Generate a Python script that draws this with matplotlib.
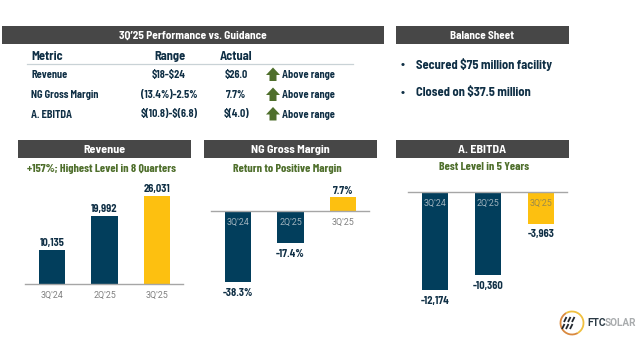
import matplotlib
matplotlib.use("Agg")
import matplotlib.pyplot as plt
from matplotlib.patches import Rectangle, Polygon, Arc

plt.rcParams['font.family'] = ['Barlow Semi Condensed', 'Roboto', 'DejaVu Sans']
CONDENSED = ['Barlow Condensed', 'Roboto', 'DejaVu Sans']
REGULAR = ['Roboto', 'DejaVu Sans']

quarters = ["3Q'24", "2Q'25", "3Q'25"]
revenue = [10135, 19992, 26031]
revenue_labels = ["10,135", "19,992", "26,031"]
margin = [-38.3, -17.4, 7.7]
margin_labels = ["-38.3%", "-17.4%", "7.7%"]
ebitda = [-12174, -10360, -3963]
ebitda_labels = ["-12,174", "-10,360", "-3,963"]
table_header = ["Metric", "Range", "Actual"]
metrics = ["Revenue", "NG Gross Margin", "A. EBITDA"]
ranges = [r"\$18-\$24", "(13.4%)-2.5%", r"\$(10.8)-\$(6.8)"]
actuals = [r"\$26.0", "7.7%", r"\$(4.0)"]
status = "Above range"
balance_items = [r"Secured \$75 million facility", r"Closed on \$37.5 million"]

NAVY = "#023e5c"
GOLD = "#fdc010"
HEAD = "#474747"
GREEN = "#4f6f2c"
DARK = "#0f2f45"
W, H = 640, 360

fig = plt.figure(figsize=(6.4, 3.6), dpi=100, facecolor="white")
bg = fig.add_axes([0, 0, 1, 1])
bg.set_xlim(0, W)
bg.set_ylim(H, 0)
bg.axis("off")


def header(x0, x1, y0, y1, text, size=8.7):
    bg.add_patch(Rectangle((x0, y0), x1 - x0, y1 - y0, fc=HEAD, ec="none"))
    bg.text((x0 + x1) / 2, (y0 + y1) / 2, text, color="white", fontsize=size,
            fontweight="bold", ha="center", va="center_baseline")


header(2, 384, 26, 44, "3Q’25 Performance vs. Guidance", 8.2)
header(396, 569, 26, 44, "Balance Sheet", 8.0)
header(18, 191, 140, 158, "Revenue")
header(204, 377, 140, 158, "NG Gross Margin")
header(396, 569, 140, 158, "A. EBITDA")

# guidance table
bg.text(31, 56, table_header[0], fontsize=9, fontweight="bold", color=DARK, va="center")
bg.text(170, 56, table_header[1], fontsize=9, fontweight="bold", color=DARK, va="center", ha="center")
bg.text(236, 56, table_header[2], fontsize=9, fontweight="bold", color=DARK, va="center", ha="center")
bg.plot([27, 353], [63.5, 63.5], color="#c9d2d6", lw=0.9)
for i, yy in enumerate([75, 95, 114.5]):
    bg.text(31, yy, metrics[i], fontsize=7.5, fontweight="bold", color=DARK, va="center")
    bg.text(169, yy, ranges[i], fontsize=7.5, fontweight="bold", color=DARK, va="center", ha="center")
    bg.text(236, yy, actuals[i], fontsize=7.5, fontweight="bold", color=DARK, va="center", ha="center")
    bg.add_patch(Polygon([(273, yy - 7.5), (280, yy), (276.5, yy), (276.5, yy + 6),
                          (269.5, yy + 6), (269.5, yy), (266, yy)], fc=GREEN, ec="none"))
    bg.text(282, yy, status, fontsize=7.5, fontweight="bold", color=DARK, va="center")

# balance sheet
for yy, item in zip([64.5, 92.5], balance_items):
    bg.text(403, yy, "•", fontsize=9, fontweight="bold", color=DARK, va="center", ha="center")
    bg.text(416, yy, item, fontsize=9.0, fontweight="bold", color=DARK, va="center")

# subtitles
for xx, yy, t in [(101.5, 168.5, "+157%; Highest Level in 8 Quarters"),
                  (287.5, 168.5, "Return to Positive Margin"),
                  (484, 167.5, "Best Level in 5 Years")]:
    bg.text(xx, yy, t, fontsize=8.6, fontweight="bold", color=GREEN, ha="center",
            va="center", family=CONDENSED)


def chart(x_center0, x_step, y_base, px_per_unit, values, labels, tick_colors, offset):
    left = x_center0 - 27
    right = x_center0 + 2 * x_step + 26
    vmax = max(max(values), 0)
    vmin = min(min(values), 0)
    top_px = y_base - vmax * px_per_unit - 18
    bot_px = y_base - vmin * px_per_unit + 18
    ax = fig.add_axes([left / W, 1 - bot_px / H, (right - left) / W, (bot_px - top_px) / H])
    ax.patch.set_alpha(0)
    ax.set_ylim(vmin - 18 / px_per_unit, vmax + 18 / px_per_unit)
    ax.set_xlim(-27 / x_step, 2 + 26 / x_step)
    colors = [NAVY, NAVY, GOLD]
    xs = range(len(values))
    ax.bar(xs, values, width=26.5 / x_step, color=colors)
    for x, v, t in zip(xs, values, labels):
        ax.annotate(t, (x, v), xytext=(0, offset[0] if v > 0 else -offset[1]),
                    textcoords="offset points", ha="center",
                    va="bottom" if v > 0 else "top",
                    fontsize=7.6, fontweight="bold", color=DARK)
    for s in ("top", "left", "right"):
        ax.spines[s].set_visible(False)
    ax.spines["bottom"].set_position("zero")
    ax.spines["bottom"].set_color("#a6a6a6")
    ax.spines["bottom"].set_linewidth(1.0)
    ax.set_yticks([])
    ax.set_xticks(list(xs))
    ax.set_xticklabels(quarters, fontsize=6.4, family=REGULAR)
    ax.tick_params(axis="x", length=0, pad=5)
    for lab, c in zip(ax.get_xticklabels(), tick_colors):
        lab.set_color(c)
    return ax


chart(52, 52.5, 284, 88 / 26031, revenue, revenue_labels, ["#808080"] * 3, (1.5, 4))
chart(238, 52.5, 211, 71 / 38.3, margin, margin_labels, ["#9fb2bd", "#9fb2bd", "#808080"], (0.5, 4))
chart(435, 53, 192, 98 / 12174, ebitda, ebitda_labels, ["#9fb2bd", "#9fb2bd", "#9c8a4a"], (2, 4))

# logo
bg.add_patch(Arc((572, 323), 23, 23, theta1=60, theta2=240, color="#d9893f", lw=1.3))
bg.add_patch(Arc((572, 323), 23, 23, theta1=240, theta2=420, color="#f0c040", lw=1.3))
for dx in (-4.5, -0.5, 3.5):
    bg.plot([566.5 + dx + 2, 569 + dx + 2], [322, 317], color="#20262c", lw=1.3, solid_capstyle="butt")
    bg.plot([564.5 + dx + 2, 567 + dx + 2], [329, 324], color="#20262c", lw=1.3, solid_capstyle="butt")
bg.text(587, 323, "FTC", fontsize=7.4, fontweight="bold", color="#2b3a45", va="center", family=REGULAR)
bg.text(605, 323, "SOLAR", fontsize=7.2, fontweight="bold", color="#a9acae", va="center", family=REGULAR)

fig.savefig("out.png", dpi=100)
